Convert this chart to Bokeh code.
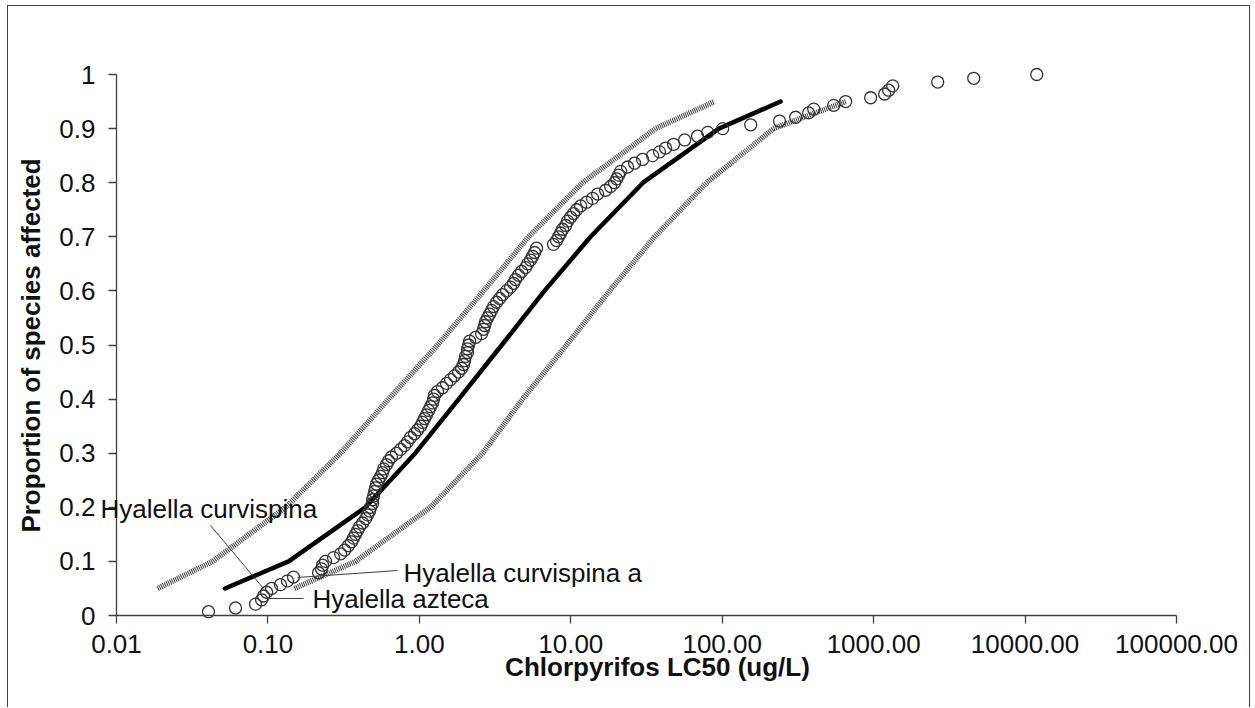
import math
from bokeh.plotting import figure
from bokeh.models import FixedTicker, Label
from bokeh.embed import file_html
from bokeh.resources import INLINE

# ---------------- data ----------------
x_ticks = [0.01, 0.1, 1, 10, 100, 1000, 10000, 100000]
x_tick_labels = ["0.01", "0.10", "1.00", "10.00", "100.00", "1000.00", "10000.00", "100000.00"]
y_ticks = [0.0, 0.1, 0.2, 0.3, 0.4, 0.5, 0.6, 0.7, 0.8, 0.9, 1.0]
y_tick_labels = ["0", "0.1", "0.2", "0.3", "0.4", "0.5", "0.6", "0.7", "0.8", "0.9", "1"]

# species LC50 values (ug/L), ranked
species_lc50 = [
    0.0405, 0.0611, 0.0828, 0.0908, 0.0936, 0.098, 0.1057, 0.121, 0.1346, 0.1475,
    0.216, 0.226, 0.2296, 0.240, 0.271, 0.302, 0.321, 0.340, 0.356, 0.367,
    0.379, 0.391, 0.403, 0.422, 0.442, 0.455, 0.469, 0.476, 0.491, 0.491,
    0.498, 0.506, 0.514, 0.521, 0.538, 0.555, 0.571, 0.581, 0.607, 0.627,
    0.655, 0.706, 0.752, 0.798, 0.836, 0.875, 0.929, 0.973, 1.019, 1.05,
    1.082, 1.116, 1.151, 1.186, 1.222, 1.241, 1.259, 1.318, 1.422, 1.513,
    1.607, 1.706, 1.815, 1.901, 1.959, 1.99, 2.018, 2.08, 2.08, 2.113,
    2.148, 2.35, 2.576, 2.655, 2.698, 2.735, 2.818, 2.911, 2.999, 3.09,
    3.236, 3.388, 3.548, 3.767, 4.0, 4.188, 4.315, 4.519, 4.732, 5.023,
    5.188, 5.42, 5.598, 5.768, 5.943, 7.69, 8.05, 8.30, 8.57, 8.83,
    9.25, 9.53, 9.98, 10.43, 10.92, 11.61, 12.71, 13.93, 15.03, 16.98,
    18.32, 19.45, 20.09, 20.70, 21.33, 23.71, 26.37, 29.79, 34.67, 38.55,
    42.27, 47.75, 56.49, 68.7, 80.2, 100.7, 154.2, 239.0, 305.5, 372.0,
    402.0, 545.0, 653.0, 955.0, 1183.0, 1256.0, 1337.0, 2649.0, 4581.0, 11940.0,
]
species_prop = [
    0.007, 0.014, 0.021, 0.029, 0.036, 0.043, 0.050, 0.057, 0.064, 0.071,
    0.079, 0.086, 0.093, 0.100, 0.107, 0.114, 0.121, 0.129, 0.136, 0.143,
    0.150, 0.157, 0.164, 0.171, 0.179, 0.186, 0.193, 0.200, 0.207, 0.214,
    0.221, 0.229, 0.236, 0.243, 0.250, 0.257, 0.264, 0.271, 0.279, 0.286,
    0.293, 0.300, 0.307, 0.314, 0.321, 0.329, 0.336, 0.343, 0.350, 0.357,
    0.364, 0.371, 0.379, 0.386, 0.393, 0.400, 0.407, 0.414, 0.421, 0.429,
    0.436, 0.443, 0.450, 0.457, 0.464, 0.471, 0.479, 0.486, 0.493, 0.500,
    0.507, 0.514, 0.521, 0.529, 0.536, 0.543, 0.550, 0.557, 0.564, 0.571,
    0.579, 0.586, 0.593, 0.600, 0.607, 0.614, 0.621, 0.629, 0.636, 0.643,
    0.650, 0.657, 0.664, 0.671, 0.679, 0.686, 0.693, 0.700, 0.707, 0.714,
    0.721, 0.729, 0.736, 0.743, 0.750, 0.757, 0.764, 0.771, 0.779, 0.786,
    0.793, 0.800, 0.807, 0.814, 0.821, 0.829, 0.836, 0.843, 0.850, 0.857,
    0.864, 0.871, 0.879, 0.886, 0.893, 0.900, 0.907, 0.914, 0.921, 0.929,
    0.936, 0.943, 0.950, 0.957, 0.964, 0.971, 0.979, 0.986, 0.993, 1.000,
]

# fitted species sensitivity distribution
fit_lc50 = [0.052, 0.137, 0.44, 0.94, 1.82, 3.5, 6.7, 13.5, 30.0, 95.0, 243.0]
fit_prop = [0.05, 0.1, 0.2, 0.3, 0.4, 0.5, 0.6, 0.7, 0.8, 0.9, 0.95]

# confidence limits
band_prop = [0.05, 0.1, 0.2, 0.3, 0.4, 0.5, 0.6, 0.7, 0.8, 0.9, 0.95]
upper_lc50 = [0.0187, 0.0431, 0.1307, 0.3016, 0.626, 1.319, 2.655, 5.265, 11.96, 36.3, 89.1]
lower_lc50 = [0.1499, 0.379, 1.186, 2.615, 4.80, 9.38, 18.04, 35.8, 78.9, 218.5, 653.0]

label_texts = ["Hyalella curvispina", "Hyalella curvispina a", "Hyalella azteca"]
x_title = "Chlorpyrifos LC50 (ug/L)"
y_title = "Proportion of species affected"

# ---------------- figure ----------------
FONT = "Liberation Sans"
TXT = "#111111"
AX = "#404040"
W, H = 1243, 702
# frame covers the whole canvas; axes sit at fixed data locations
X0_PX, DEC = 108.0, 151.43          # canvas px of x=0.01, px per decade
Y0_PX, UNIT = 609.0, 541.0          # canvas px of y=0, px per unit
x_lo = 10 ** (-2 - X0_PX / DEC)
x_hi = 10 ** (-2 + (W - X0_PX) / DEC)
y_lo = -(H - Y0_PX) / UNIT
y_hi = Y0_PX / UNIT

p = figure(width=W, height=H, x_axis_type="log", x_range=(x_lo, x_hi), y_range=(y_lo, y_hi),
           output_backend="svg", toolbar_location=None,
           min_border_left=0, min_border_right=0, min_border_top=0, min_border_bottom=0)
p.styles = {"margin-left": "7px", "margin-top": "5px",
            "border-left": "1px solid #404040", "border-top": "1px solid #404040",
            "border-right": "1px solid #404040"}
p.outline_line_color = None
p.grid.visible = False
p.background_fill_color = "white"
p.border_fill_color = "white"


def xval(px_abs):
    return 10 ** (-2 + (px_abs - 8 - X0_PX) / DEC)


def yval(py_abs):
    return (Y0_PX - (py_abs - 6)) / UNIT


# bands (stippled confidence limits)
for xs in (upper_lc50, lower_lc50):
    p.line(xs, band_prop, line_color="#2a2a2a", line_width=5.5, line_dash="1 1", line_alpha=0.9)
# fitted
p.line(fit_lc50, fit_prop, line_color="black", line_width=4.5, line_cap="round", line_join="round")
# species
p.scatter(species_lc50, species_prop, size=12, marker="circle", fill_color=None,
          line_color="#333333", line_width=1.3)

# leader lines and labels
p.segment(x0=[xval(210), xval(397), xval(268)], y0=[yval(525), yval(570), yval(598)],
          x1=[xval(263), xval(297), xval(303)], y1=[yval(588), yval(577), yval(598)],
          line_color=AX, line_width=1)
for t, lx, ly in zip(label_texts, [100, 403, 312], [508, 572, 598]):
    p.add_layout(Label(x=xval(lx), y=yval(ly), text=t, text_font=FONT, text_font_size="26px",
                       text_color=TXT, text_align="left", text_baseline="middle"))

# axis titles
p.add_layout(Label(x=xval(657), y=yval(666), text=x_title, text_font=FONT, text_font_size="26px",
                   text_font_style="bold", text_color=TXT, text_align="center", text_baseline="middle"))
p.add_layout(Label(x=xval(30), y=yval(345), text=y_title, text_font=FONT, text_font_size="26px",
                   text_font_style="bold", text_color=TXT, text_align="center", text_baseline="middle",
                   angle=math.pi / 2))

# axes
for ax in (p.xaxis[0], p.yaxis[0]):
    ax.axis_line_color = AX
    ax.axis_line_width = 1.3
    ax.major_tick_line_color = AX
    ax.major_tick_line_width = 1.3
    ax.major_tick_out = 8
    ax.major_tick_in = 0
    ax.minor_tick_line_color = None
    ax.major_label_text_font = FONT
    ax.major_label_text_font_size = "26px"
    ax.major_label_text_color = TXT

p.xaxis.ticker = FixedTicker(ticks=x_ticks)
p.xaxis.major_label_overrides = {t: l for t, l in zip(x_ticks, x_tick_labels)}
p.xaxis.major_label_standoff = 11
p.xaxis.fixed_location = 0
p.xaxis.bounds = (x_ticks[0], x_ticks[-1])

p.yaxis.ticker = FixedTicker(ticks=y_ticks)
p.yaxis.major_label_overrides = {t: l for t, l in zip(y_ticks, y_tick_labels)}
p.yaxis.major_label_standoff = 13
p.yaxis.fixed_location = x_ticks[0]
p.yaxis.bounds = (y_ticks[0], y_ticks[-1])

open("out.html", "w").write(file_html(p, INLINE))
